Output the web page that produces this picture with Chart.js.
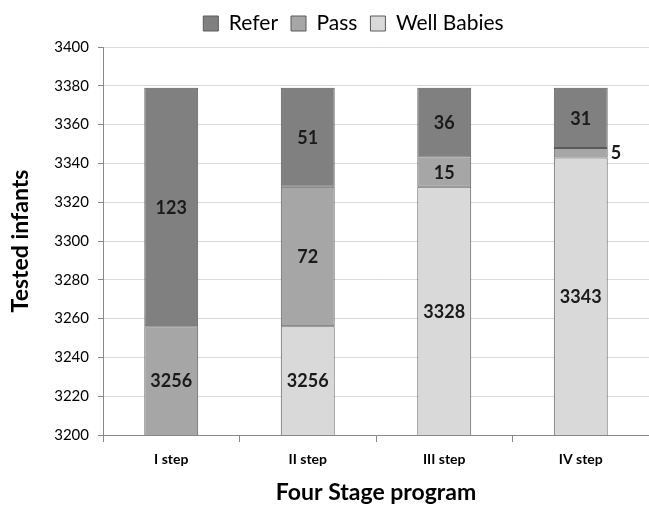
<!DOCTYPE html>
<html>
<head>
<meta charset="utf-8">
<script src="https://cdn.jsdelivr.net/npm/chart.js@4.4.1/dist/chart.umd.min.js"></script>
<style>
  html, body { margin: 0; padding: 0; background: #fff; overflow: hidden; }
  #wrap { width: 649px; height: 506px; }
</style>
</head>
<body>
<div id="wrap"><canvas id="chart" width="649" height="506"></canvas></div>
<script>
const steps = ["I step", "II step", "III step", "IV step"];
const wellBabies = [0, 3256, 3328, 3343];
const pass = [3256, 72, 15, 5];
const refer = [123, 51, 36, 31];
const yTicks = [3200, 3220, 3240, 3260, 3280, 3300, 3320, 3340, 3360, 3380, 3400];

const FONT = "Lato, 'Open Sans', sans-serif";
Chart.defaults.font.family = FONT;
Chart.defaults.color = "#000";

// draw the value in the middle of the visible part of each segment
const segmentLabels = {
  id: "segmentLabels",
  afterDatasetsDraw(chart) {
    const ctx = chart.ctx;
    const area = chart.chartArea;
    ctx.save();
    ctx.font = "bold 18px " + FONT;
    ctx.fillStyle = "#1a1a1a";
    chart.data.datasets.forEach((ds, di) => {
      const meta = chart.getDatasetMeta(di);
      meta.data.forEach((bar, i) => {
        const v = ds.data[i];
        if (!v) return;
        const top = Math.max(bar.y, area.top);
        const bottom = Math.min(bar.base, area.bottom);
        const mid = (top + bottom) / 2;
        ctx.textBaseline = "middle";
        if (bottom - top < 16) {
          ctx.textAlign = "left";
          ctx.fillText(v, bar.x + bar.width / 2 + 3, mid);
        } else {
          ctx.textAlign = "center";
          ctx.fillText(v, bar.x, mid + 1);
        }
      });
    });
    ctx.restore();
  }
};

// a little extra room under the legend, and centre it over the plot area
const legendGap = {
  id: "legendGap",
  beforeInit(chart) {
    const fit = chart.legend.fit;
    chart.legend.fit = function () {
      fit.bind(chart.legend)();
      this.height += 3;
    };
  },
  afterLayout(chart) {
    chart.legend.left += 29;
    chart.legend.right += 29;
  }
};

new Chart(document.getElementById("chart"), {
  type: "bar",
  data: {
    labels: steps,
    datasets: [
      { label: "Refer", data: refer, backgroundColor: "#808080", order: 3 },
      { label: "Pass", data: pass, backgroundColor: "#a6a6a6", order: 2 },
      { label: "Well Babies", data: wellBabies, backgroundColor: "#d9d9d9", order: 1 }
    ].map(d => Object.assign(d, {
      borderColor: "#5a5a5a",
      borderWidth: 1,
      borderSkipped: false,
      barPercentage: 0.395,
      categoryPercentage: 1.0
    }))
  },
  options: {
    responsive: false,
    animation: false,
    layout: { padding: { top: 0, right: 0, bottom: 0, left: 0 } },
    plugins: {
      legend: {
        position: "top",
        labels: {
          boxWidth: 15,
          boxHeight: 15,
          padding: 13,
          font: { size: 21 },
          color: "#000",
          generateLabels(chart) {
            return chart.data.datasets.map((ds, i) => ({
              text: ds.label,
              fillStyle: ds.backgroundColor,
              strokeStyle: "#5a5a5a",
              lineWidth: 1,
              datasetIndex: i
            }));
          }
        }
      },
      tooltip: { enabled: false }
    },
    scales: {
      x: {
        stacked: true,
        grid: { drawOnChartArea: false, drawTicks: true, tickLength: 7, color: "#888" },
        border: { color: "#888" },
        ticks: { font: { size: 14, weight: "bold" }, padding: 9, color: "#000" },
        title: {
          display: true,
          text: "Four Stage program",
          font: { size: 23, weight: "bold" },
          padding: { top: 0, bottom: 0 },
          color: "#000"
        },
        afterFit(scale) { scale.height = 71; }
      },
      y: {
        stacked: true,
        min: 3200,
        max: 3400,
        afterBuildTicks(scale) { scale.ticks = yTicks.map(v => ({ value: v })); },
        grid: { color: "#d9d9d9", tickColor: "#888", tickLength: 5 },
        border: { color: "#888" },
        ticks: { font: { size: 15 }, padding: 9, color: "#000", callback: v => String(v) },
        title: {
          display: true,
          text: "Tested infants",
          font: { size: 23, weight: "bold" },
          padding: { top: 7, bottom: 0 },
          color: "#000"
        },
        afterFit(scale) { scale.width = 103; }
      }
    }
  },
  plugins: [segmentLabels, legendGap]
});
</script>
</body>
</html>
